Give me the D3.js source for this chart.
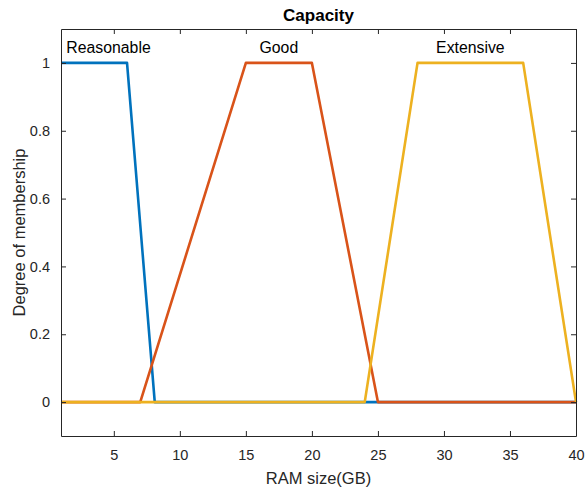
<!DOCTYPE html>
<html>
<head>
<meta charset="utf-8">
<script src="https://cdn.jsdelivr.net/npm/d3@7"></script>
<style>
  body { margin: 0; background: #fff; }
  text { font-family: "Liberation Sans", Arial, sans-serif; }
</style>
</head>
<body>
<svg id="chart" width="585" height="487"></svg>
<script>
// membership functions (trapezoids) on RAM size in GB
const mfNames = ["Reasonable", "Good", "Extensive"];
const mfColors = ["#0072BD", "#D95319", "#EDB120"];
const reasonableX = [1, 6, 8.1, 40];
const reasonableY = [1, 1, 0, 0];
const goodX = [1, 7, 15, 20, 25, 40];
const goodY = [0, 0, 1, 1, 0, 0];
const extensiveX = [1, 24, 28, 36, 40];
const extensiveY = [0, 0, 1, 1, 0];
const labelX = [4.6, 17.5, 32];
const xTicks = [5, 10, 15, 20, 25, 30, 35, 40];
const yTicks = [0, 0.2, 0.4, 0.6, 0.8, 1];

const series = [
  reasonableX.map((x, i) => ({ x: x, y: reasonableY[i] })),
  goodX.map((x, i) => ({ x: x, y: goodY[i] })),
  extensiveX.map((x, i) => ({ x: x, y: extensiveY[i] })),
];

const svg = d3.select("#chart");
const mLeft = 61, mRight = 576, mTop = 29, mBottom = 436;
const axisColor = "#262626";

const x = d3.scaleLinear().domain([1, 40]).range([mLeft, mRight]);
const y = d3.scaleLinear().domain([-0.1, 1.1]).range([mBottom, mTop]);

// lines
const line = d3.line().x((d) => x(d.x)).y((d) => y(d.y));
svg.selectAll("path.mf")
  .data(series)
  .enter()
  .append("path")
  .attr("class", "mf")
  .attr("d", line)
  .attr("fill", "none")
  .attr("stroke", (d, i) => mfColors[i])
  .attr("stroke-width", 2.6)
  .attr("stroke-linejoin", "round");

// axes: ticks pointing inward on all four sides
function styleAxis(g) {
  g.selectAll("path.domain").attr("stroke", axisColor);
  g.selectAll(".tick line").attr("stroke", axisColor);
  g.selectAll(".tick text")
    .attr("fill", axisColor)
    .style("font-family", '"Liberation Sans", Arial, sans-serif')
    .style("font-size", "14.5px");
}

svg.append("g")
  .attr("transform", `translate(0,${mBottom})`)
  .call(d3.axisBottom(x).tickValues(xTicks).tickSize(-5).tickPadding(14).tickSizeOuter(0))
  .call(styleAxis);
svg.append("g")
  .attr("transform", `translate(0,${mTop})`)
  .call(d3.axisTop(x).tickValues(xTicks).tickSize(-5).tickFormat("").tickSizeOuter(0))
  .call(styleAxis);
svg.append("g")
  .attr("transform", `translate(${mLeft},0)`)
  .call(d3.axisLeft(y).tickValues(yTicks).tickSize(-5).tickPadding(11)
    .tickFormat(d3.format("~g")).tickSizeOuter(0))
  .call(styleAxis);
svg.append("g")
  .attr("transform", `translate(${mRight},0)`)
  .call(d3.axisRight(y).tickValues(yTicks).tickSize(-5).tickFormat("").tickSizeOuter(0))
  .call(styleAxis);

// MF labels
svg.selectAll("text.mflabel")
  .data(mfNames)
  .enter()
  .append("text")
  .attr("class", "mflabel")
  .attr("x", (d, i) => x(labelX[i]))
  .attr("y", 53)
  .attr("text-anchor", "middle")
  .attr("font-size", 15.8)
  .attr("fill", "#000")
  .text((d) => d);

// title and axis labels
svg.append("text")
  .attr("x", (mLeft + mRight) / 2)
  .attr("y", 21)
  .attr("text-anchor", "middle")
  .attr("font-size", 17)
  .attr("font-weight", "bold")
  .attr("fill", "#000")
  .text("Capacity");

svg.append("text")
  .attr("x", (mLeft + mRight) / 2)
  .attr("y", 484)
  .attr("text-anchor", "middle")
  .attr("font-size", 16.5)
  .attr("fill", axisColor)
  .text("RAM size(GB)");

svg.append("text")
  .attr("transform", `translate(25,${(mTop + mBottom) / 2}) rotate(-90)`)
  .attr("text-anchor", "middle")
  .attr("font-size", 16.5)
  .attr("fill", axisColor)
  .text("Degree of membership");
</script>
</body>
</html>
